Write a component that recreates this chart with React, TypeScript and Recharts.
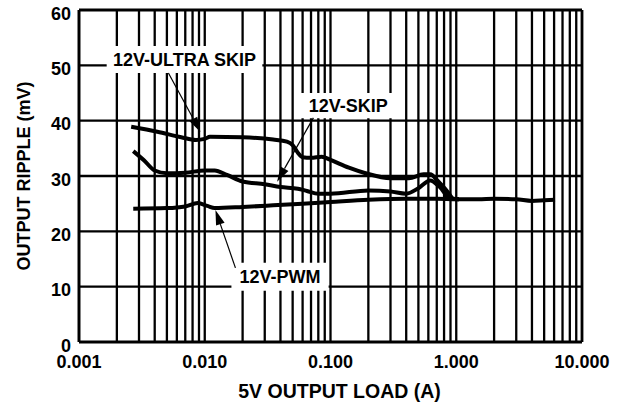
import React from 'react';
import { LineChart, Line, XAxis, YAxis, ReferenceLine, ReferenceArea } from 'recharts';

// 12V-ULTRA SKIP
const ultraLoad = [0.0026, 0.0042, 0.0065, 0.0085, 0.0100, 0.0110, 0.020, 0.035, 0.045, 0.050, 0.055, 0.060, 0.070, 0.085, 0.10, 0.14, 0.19, 0.30, 0.42, 0.55, 0.62, 0.72, 0.85, 0.95, 1.05];
const ultraRipple = [38.9, 38.0, 37.0, 36.5, 36.7, 37.1, 37.0, 36.6, 36.2, 35.6, 34.2, 33.4, 33.3, 33.5, 32.9, 31.5, 30.5, 29.6, 29.6, 30.3, 30.3, 29.0, 27.2, 25.9, 25.8];

// 12V-SKIP
const skipLoad = [0.0027, 0.0033, 0.0040, 0.0050, 0.0070, 0.0100, 0.0120, 0.015, 0.020, 0.030, 0.040, 0.055, 0.065, 0.080, 0.10, 0.20, 0.30, 0.40, 0.50, 0.62, 0.74, 0.90, 1.05];
const skipRipple = [34.5, 32.8, 31.0, 30.5, 30.6, 31.0, 31.0, 30.2, 29.0, 28.5, 28.0, 27.7, 27.3, 26.8, 26.8, 27.4, 27.2, 26.8, 27.8, 29.2, 28.0, 25.9, 25.8];

// 12V-PWM
const pwmLoad = [0.0027, 0.0050, 0.0070, 0.0088, 0.0105, 0.012, 0.020, 0.035, 0.060, 0.10, 0.20, 0.40, 0.70, 1.0, 1.5, 2.0, 3.0, 4.0, 5.0, 6.1];
const pwmRipple = [24.1, 24.2, 24.5, 25.1, 24.6, 24.2, 24.4, 24.7, 25.0, 25.3, 25.7, 25.9, 25.9, 25.8, 25.8, 25.9, 25.8, 25.5, 25.6, 25.7];

const xTicks = [0.001, 0.01, 0.1, 1, 10];
const yTicks = [0, 10, 20, 30, 40, 50, 60];
const xGridLines = [
  0.001, 0.002, 0.003, 0.004, 0.005, 0.006, 0.007, 0.008, 0.009,
  0.01, 0.02, 0.03, 0.04, 0.05, 0.06, 0.07, 0.08, 0.09,
  0.1, 0.2, 0.3, 0.4, 0.5, 0.6, 0.7, 0.8, 0.9,
  1, 2, 3, 4, 5, 6, 7, 8, 9, 10,
];
const yGridLines = [10, 20, 30, 40, 50, 60];

const seriesNames = ['12V-ULTRA SKIP', '12V-SKIP', '12V-PWM'];
// annotation boxes (data coordinates)
const boxX1 = [0.00166, 0.0557, 0.0163];
const boxX2 = [0.0287, 0.343, 0.0966];
const boxY1 = [48.6, 40.45, 9.25];
const boxY2 = [53.5, 45.0, 14.3];
// annotation arrows (data coordinates)
const arrowFromX = [0.00514, 0.0731, 0.01754];
const arrowFromY = [48.6, 40.5, 13.4];
const arrowToX = [0.00924, 0.0376, 0.01216];
const arrowToY = [37.95, 28.97, 23.86];

const toData = (xs: number[], ys: number[]) => xs.map((x, i) => ({ x, y: ys[i] }));
const ultraData = toData(ultraLoad, ultraRipple);
const skipData = toData(skipLoad, skipRipple);
const pwmData = toData(pwmLoad, pwmRipple);

const FONT = '"Liberation Sans", Arial, sans-serif';

const XTick = (props: any) => {
  const { x, y, payload } = props;
  return (
    <text x={x} y={y + 26} textAnchor="middle" fontSize={18} fontWeight="bold" fill="#000" fontFamily={FONT}>
      {Number(payload.value).toFixed(3)}
    </text>
  );
};

const YTick = (props: any) => {
  const { x, y, payload } = props;
  return (
    <text x={x - 8} y={y + 9.5} textAnchor="end" fontSize={18} fontWeight="bold" fill="#000" fontFamily={FONT}>
      {payload.value}
    </text>
  );
};

const Arrow = (props: any) => {
  const { x1, y1, x2, y2 } = props;
  if ([x1, y1, x2, y2].some((v) => v == null || isNaN(v))) return null;
  const dx = x2 - x1;
  const dy = y2 - y1;
  const len = Math.sqrt(dx * dx + dy * dy) || 1;
  const ux = dx / len;
  const uy = dy / len;
  const hl = 15;
  const hw = 4.5;
  const bx = x2 - ux * hl;
  const by = y2 - uy * hl;
  const p1 = `${x2},${y2}`;
  const p2 = `${bx - uy * hw},${by + ux * hw}`;
  const p3 = `${bx + uy * hw},${by - ux * hw}`;
  return (
    <g>
      <line x1={x1} y1={y1} x2={bx} y2={by} stroke="#000" strokeWidth={1.2} />
      <polygon points={`${p1} ${p2} ${p3}`} fill="#000" />
    </g>
  );
};

export default function App() {
  return (
    <div style={{ position: 'absolute', left: 0, top: 0, fontFamily: FONT }}>
      <LineChart width={626} height={404} margin={{ top: 10, right: 44, bottom: 0, left: 0 }}>
        <XAxis
          dataKey="x"
          type="number"
          scale="log"
          domain={[0.001, 10]}
          ticks={xTicks}
          allowDataOverflow
          height={62}
          tickSize={0}
          tickMargin={0}
          tickLine={false}
          axisLine={{ stroke: '#000', strokeWidth: 2.8 }}
          tick={<XTick />}
          interval={0}
          label={{
            content: (p: any) => {
              const vb = p.viewBox || {};
              return (
                <text x={vb.x + vb.width / 2 + 9} y={vb.y + 56} textAnchor="middle" fontSize={19.5} fontWeight="bold" fill="#000" fontFamily={FONT}>
                  5V OUTPUT LOAD (A)
                </text>
              );
            },
          }}
        />
        <YAxis
          type="number"
          domain={[0, 60]}
          ticks={yTicks}
          width={79}
          tickSize={0}
          tickMargin={0}
          tickLine={false}
          axisLine={{ stroke: '#000', strokeWidth: 2.8 }}
          tick={<YTick />}
          interval={0}
          label={{
            content: (p: any) => {
              const vb = p.viewBox || {};
              const cx = vb.x + 24;
              const cy = vb.y + vb.height / 2;
              return (
                <text x={cx} y={cy} transform={`rotate(-90 ${cx} ${cy})`} textAnchor="middle" dominantBaseline="central" fontSize={18} fontWeight="bold" fill="#000" fontFamily={FONT}>
                  OUTPUT RIPPLE (mV)
                </text>
              );
            },
          }}
        />
        {xGridLines.map((v) => (
          <ReferenceLine key={`gx${v}`} x={v} stroke="#000" strokeWidth={v === 10 ? 2.8 : 2.3} zIndex={50} />
        ))}
        {yGridLines.map((v) => (
          <ReferenceLine key={`gy${v}`} y={v} stroke="#000" strokeWidth={v === 60 ? 2.8 : 2.3} zIndex={50} />
        ))}
        {seriesNames.map((name, i) => (
          <ReferenceArea
            key={`box${i}`}
            x1={boxX1[i]}
            x2={boxX2[i]}
            y1={boxY1[i]}
            y2={boxY2[i]}
            fill="#fff"
            fillOpacity={1}
            stroke="none"
            zIndex={60}
            label={{ value: name, position: 'center', fill: '#000', fontSize: 18, fontWeight: 'bold', fontFamily: FONT }}
          />
        ))}
        <Line data={ultraData} dataKey="y" type="monotone" stroke="#000" strokeWidth={4} dot={false} isAnimationActive={false} />
        <Line data={skipData} dataKey="y" type="monotone" stroke="#000" strokeWidth={4} dot={false} isAnimationActive={false} />
        <Line data={pwmData} dataKey="y" type="monotone" stroke="#000" strokeWidth={4} dot={false} isAnimationActive={false} />
        {seriesNames.map((name, i) => (
          <ReferenceLine
            key={`arrow${i}`}
            segment={[
              { x: arrowFromX[i], y: arrowFromY[i] },
              { x: arrowToX[i], y: arrowToY[i] },
            ]}
            stroke="#000"
            zIndex={1500}
            shape={(p: any) => <Arrow {...p} />}
          />
        ))}
      </LineChart>
    </div>
  );
}
